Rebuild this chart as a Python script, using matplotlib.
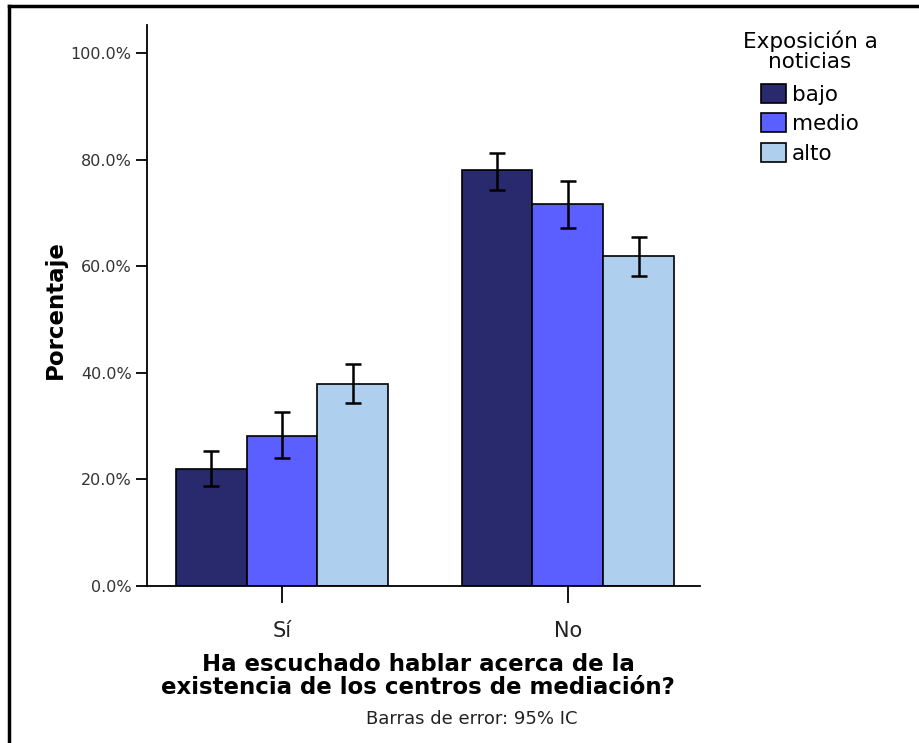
import matplotlib
matplotlib.use("Agg")
import matplotlib.pyplot as plt
from matplotlib.patches import Patch
from matplotlib.lines import Line2D
import numpy as np

categories = ["Sí", "No"]
series = ["bajo", "medio", "alto"]
values = {
    "bajo": [22.0, 78.0],
    "medio": [28.2, 71.7],
    "alto": [37.9, 61.9],
}
ci_low = {
    "bajo": [18.8, 74.4],
    "medio": [24.0, 67.2],
    "alto": [34.3, 58.2],
}
ci_high = {
    "bajo": [25.4, 81.2],
    "medio": [32.7, 76.0],
    "alto": [41.6, 65.5],
}
colors = {"bajo": "#29296e", "medio": "#5b5fff", "alto": "#aed0ee"}
yticks = [0, 20, 40, 60, 80, 100]

plt.rcParams['font.family'] = ['DejaVu Sans']

fig = plt.figure(figsize=(9.2, 7.43), dpi=100)
ax = fig.add_axes([147/920, (743-586)/743, (700-147)/920, (586-25)/743])

x = np.arange(len(categories))
w = 0.248
for i, s in enumerate(series):
    pos = x + (i - 1) * w
    v = np.array(values[s])
    lo = v - np.array(ci_low[s])
    hi = np.array(ci_high[s]) - v
    ax.bar(pos, v, width=w, color=colors[s], edgecolor="black", linewidth=1.2, zorder=2)
    ax.errorbar(pos, v, yerr=[lo, hi], fmt="none", ecolor="black", elinewidth=1.8,
                capsize=6, capthick=1.8, zorder=3)

ax.set_xlim(-0.472, 1.462)
ax.set_ylim(0, 105.3)
ax.set_yticks(yticks)
ax.set_yticklabels([f"{t:.1f}%" for t in yticks], fontsize=11.5, color="#333333")
ax.set_xticks(x)
ax.set_xticklabels(categories, fontsize=15, color="#222222")
ax.tick_params(axis="y", direction="out", length=8, width=1.3, pad=3)
ax.tick_params(axis="x", direction="out", length=12, width=1.3, pad=13)
for sp in ["top", "right"]:
    ax.spines[sp].set_visible(False)
for sp in ["left", "bottom"]:
    ax.spines[sp].set_linewidth(1.3)

fig.text(55/920, 1 - 310/743, "Porcentaje", rotation=90, ha="center", va="center",
         fontsize=16.5, fontweight="bold")
fig.text(418/920, 1 - 676/743, "Ha escuchado hablar acerca de la\nexistencia de los centros de mediación?",
         ha="center", va="center", fontsize=16.5, fontweight="bold", linespacing=1.0)
fig.text(472/920, 1 - 719/743, "Barras de error: 95% IC", ha="center", va="center", fontsize=13,
         color="#222222")

handles = [Patch(facecolor=colors[s], edgecolor="black", linewidth=1.2) for s in series]
leg = fig.legend(handles, series, title="Exposición a\nnoticias", loc="upper center",
                 bbox_to_anchor=(810/920, 1 - 31/743), frameon=False, fontsize=15.5,
                 title_fontsize=15.5, handlelength=1.15, handleheight=1.0, handletextpad=0.3,
                 labelspacing=0.4, borderaxespad=0, borderpad=0)
leg.get_title().set_multialignment("center")
leg.get_title().set_linespacing(1.0)
leg._legend_box.sep = 8

# outer frame lines (left and top)
fig.add_artist(Line2D([9/920, 9/920], [0, 1 - 6/743], transform=fig.transFigure, color="black", linewidth=2.5))
fig.add_artist(Line2D([9/920, 1], [1 - 6/743, 1 - 6/743], transform=fig.transFigure, color="black", linewidth=2.5))

fig.savefig("out.png", dpi=100)
